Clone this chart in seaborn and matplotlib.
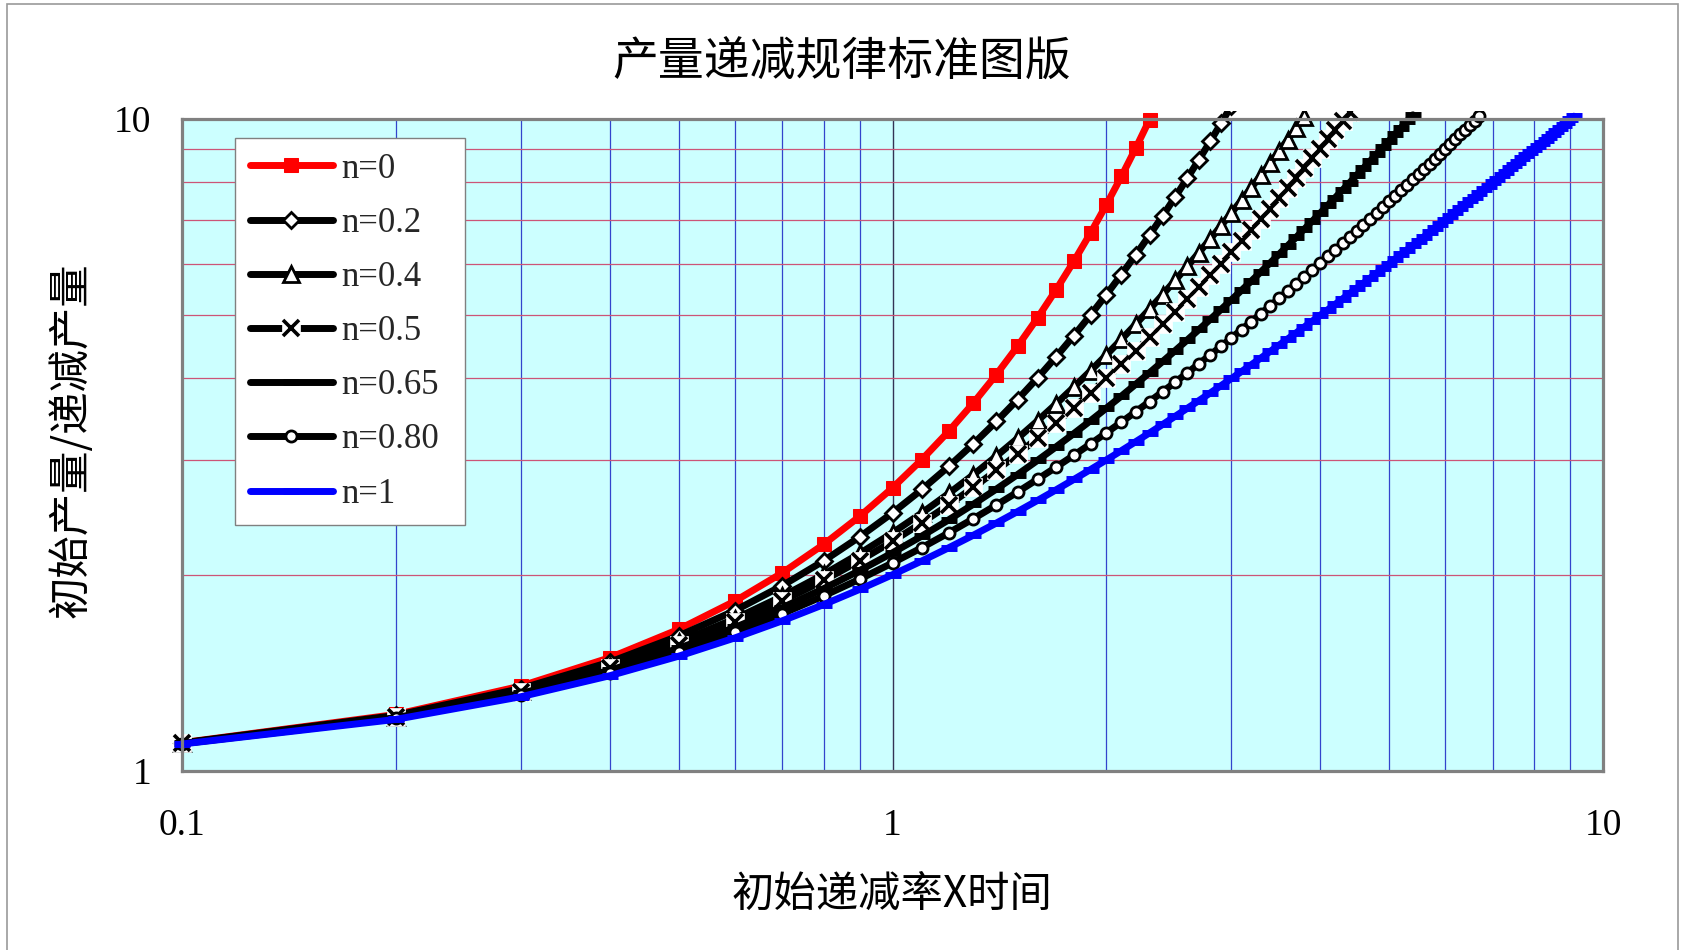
import matplotlib.pyplot as plt
import matplotlib.patches as mpatches
import numpy as np
import seaborn as sns
from matplotlib.ticker import FixedLocator, LogLocator, NullFormatter

sns.set_theme(style='white')
plt.rcParams['font.family'] = ['Noto Sans CJK SC', 'DejaVu Sans']
plt.rcParams['axes.unicode_minus'] = False

# initial decline rate x time (shared grid, step 0.1)
t = [0.1, 0.2, 0.3, 0.4, 0.5, 0.6, 0.7, 0.8, 0.9, 1.0,
     1.1, 1.2, 1.3, 1.4, 1.5, 1.6, 1.7, 1.8, 1.9, 2.0,
     2.1, 2.2, 2.3, 2.4, 2.5, 2.6, 2.7, 2.8, 2.9, 3.0,
     3.1, 3.2, 3.3, 3.4, 3.5, 3.6, 3.7, 3.8, 3.9, 4.0,
     4.1, 4.2, 4.3, 4.4, 4.5, 4.6, 4.7, 4.8, 4.9, 5.0,
     5.1, 5.2, 5.3, 5.4, 5.5, 5.6, 5.7, 5.8, 5.9, 6.0,
     6.1, 6.2, 6.3, 6.4, 6.5, 6.6, 6.7, 6.8, 6.9, 7.0,
     7.1, 7.2, 7.3, 7.4, 7.5, 7.6, 7.7, 7.8, 7.9, 8.0,
     8.1, 8.2, 8.3, 8.4, 8.5, 8.6, 8.7, 8.8, 8.9, 9.0, 9.1]

# Q0/Q for each decline exponent n
q_n0 = [1.105, 1.221, 1.350, 1.492, 1.649, 1.822, 2.014, 2.226, 2.460, 2.718,
        3.004, 3.320, 3.669, 4.055, 4.482, 4.953, 5.474, 6.050, 6.686, 7.389,
        8.166, 9.025, 9.974]
q_n02 = [1.104, 1.217, 1.338, 1.469, 1.611, 1.762, 1.925, 2.100, 2.288, 2.488,
         2.703, 2.932, 3.176, 3.436, 3.713, 4.007, 4.320, 4.653, 5.005, 5.378,
         5.774, 6.192, 6.634, 7.101, 7.594, 8.114, 8.662, 9.239, 9.847, 10.486]
q_n04 = [1.103, 1.212, 1.328, 1.449, 1.577, 1.712, 1.854, 2.002, 2.157, 2.319,
         2.488, 2.665, 2.848, 3.040, 3.238, 3.444, 3.658, 3.880, 4.109, 4.347,
         4.592, 4.846, 5.108, 5.378, 5.657, 5.944, 6.240, 6.544, 6.857, 7.179,
         7.510, 7.849, 8.198, 8.556, 8.923, 9.300, 9.686, 10.081]
q_n05 = [1.103, 1.210, 1.323, 1.440, 1.563, 1.690, 1.823, 1.960, 2.103, 2.250,
         2.403, 2.560, 2.723, 2.890, 3.063, 3.240, 3.423, 3.610, 3.803, 4.000,
         4.203, 4.410, 4.623, 4.840, 5.063, 5.290, 5.523, 5.760, 6.003, 6.250,
         6.503, 6.760, 7.023, 7.290, 7.563, 7.840, 8.123, 8.410, 8.703, 9.000,
         9.303, 9.610, 9.923, 10.240]
q_n065 = [1.102, 1.207, 1.315, 1.427, 1.542, 1.660, 1.781, 1.904, 2.031, 2.161,
          2.293, 2.428, 2.566, 2.706, 2.849, 2.995, 3.143, 3.293, 3.446, 3.602,
          3.759, 3.920, 4.082, 4.247, 4.414, 4.583, 4.755, 4.928, 5.104, 5.282,
          5.462, 5.644, 5.829, 6.015, 6.203, 6.394, 6.586, 6.781, 6.977, 7.175,
          7.376, 7.578, 7.782, 7.988, 8.196, 8.406, 8.617, 8.831, 9.046, 9.263,
          9.482, 9.702, 9.925, 10.149]
q_n08 = [1.101, 1.204, 1.309, 1.415, 1.523, 1.632, 1.743, 1.856, 1.970, 2.085,
         2.201, 2.319, 2.438, 2.558, 2.679, 2.802, 2.925, 3.050, 3.175, 3.302,
         3.429, 3.557, 3.687, 3.817, 3.948, 4.080, 4.213, 4.347, 4.481, 4.617,
         4.753, 4.890, 5.028, 5.166, 5.306, 5.446, 5.586, 5.728, 5.870, 6.013,
         6.156, 6.300, 6.445, 6.591, 6.737, 6.883, 7.031, 7.179, 7.328, 7.477,
         7.627, 7.777, 7.928, 8.080, 8.232, 8.384, 8.538, 8.692, 8.846, 9.001,
         9.156, 9.312, 9.469, 9.626, 9.783, 9.941, 10.100]
q_n1 = [1.1, 1.2, 1.3, 1.4, 1.5, 1.6, 1.7, 1.8, 1.9, 2.0,
        2.1, 2.2, 2.3, 2.4, 2.5, 2.6, 2.7, 2.8, 2.9, 3.0,
        3.1, 3.2, 3.3, 3.4, 3.5, 3.6, 3.7, 3.8, 3.9, 4.0,
        4.1, 4.2, 4.3, 4.4, 4.5, 4.6, 4.7, 4.8, 4.9, 5.0,
        5.1, 5.2, 5.3, 5.4, 5.5, 5.6, 5.7, 5.8, 5.9, 6.0,
        6.1, 6.2, 6.3, 6.4, 6.5, 6.6, 6.7, 6.8, 6.9, 7.0,
        7.1, 7.2, 7.3, 7.4, 7.5, 7.6, 7.7, 7.8, 7.9, 8.0,
        8.1, 8.2, 8.3, 8.4, 8.5, 8.6, 8.7, 8.8, 8.9, 9.0,
        9.1, 9.2, 9.3, 9.4, 9.5, 9.6, 9.7, 9.8, 9.9, 10.0, 10.1]

labels = ['n=0', 'n=0.2', 'n=0.4', 'n=0.5', 'n=0.65', 'n=0.80', 'n=1']

W, H = 1682, 950
fig = plt.figure(figsize=(W / 100, H / 100), dpi=100)
ax = fig.add_axes([182 / W, 1 - 771 / H, 1421 / W, 652 / H])
ax.set_facecolor('#CCFFFF')
ax.set_xscale('log')
ax.set_yscale('log')

# clip a little outside the plot area, like the spreadsheet does
clip = mpatches.Rectangle((-0.01, -0.01), 1.02, 1.022, transform=ax.transAxes)


def draw(y, color='black', **kw):
    sns.lineplot(x=t[:len(y)], y=y, ax=ax, errorbar=None, color=color,
                 lw=5, solid_capstyle='round', **kw)
    line = ax.lines[-1]
    line.set_clip_path(clip)
    return line


h0 = draw(q_n0, color='#FF0000', marker='s', ms=10, mfc='#FF0000', mec='#FF0000')
h02 = draw(q_n02, marker='D', ms=8.5, mfc='white', mec='black', mew=2)
h04 = draw(q_n04, marker='^', ms=11, mfc='white', mec='black', mew=2)
h05a = draw(q_n05, marker='s', ms=13, mfc='white', mec='white', mew=0.5)
h05b = draw(q_n05, marker='x', ms=11, mec='black', mew=2.6, ls='none')
h065 = draw(q_n065, marker='_', ms=11, mec='black', mew=5)
h08 = draw(q_n08, marker='o', ms=8, mfc='white', mec='black', mew=2)
h1 = draw(q_n1, color='#0000FF', marker='_', ms=11, mec='#0000FF', mew=5)

ax.set_xlim(0.1, 10)
ax.set_ylim(1, 10)

# gridlines
ax.xaxis.set_major_locator(FixedLocator([0.1, 1, 10]))
ax.xaxis.set_minor_locator(LogLocator(base=10, subs=np.arange(2, 10)))
ax.yaxis.set_major_locator(FixedLocator([1, 10]))
ax.yaxis.set_minor_locator(LogLocator(base=10, subs=np.arange(2, 10)))
ax.xaxis.set_minor_formatter(NullFormatter())
ax.yaxis.set_minor_formatter(NullFormatter())
ax.set_axisbelow(True)
ax.grid(which='minor', axis='x', color='#3344CC', lw=0.9)
ax.grid(which='major', axis='x', color='#333355', lw=1.0)
ax.grid(which='minor', axis='y', color='#CC5577', lw=0.9)

ax.set_xticks([0.1, 1, 10], labels=['0.1', '1', '10'],
              fontfamily='Liberation Serif', fontsize=27, color='black')
ax.set_yticks([1, 10], labels=['1', '10'],
              fontfamily='Liberation Serif', fontsize=27, color='black')
ax.tick_params(which='both', length=0)
ax.tick_params(axis='x', pad=27)
ax.tick_params(axis='y', pad=22)
ax.set_xlabel('')
ax.set_ylabel('')

for s in ax.spines.values():
    s.set_visible(True)
    s.set_color('#808080')
    s.set_linewidth(2.3)

handles = [h0, h02, h04, (h05a, h05b), h065, h08, h1]
leg = ax.legend(handles, labels, loc='upper left',
                bbox_to_anchor=(53 / 1421, 0, 230 / 1421, 633 / 652),
                mode='expand', borderaxespad=0, frameon=True, fancybox=False,
                framealpha=1, facecolor='white', edgecolor='#808080',
                prop={'family': 'Liberation Serif', 'size': 25},
                handlelength=2.4, handletextpad=0.25, labelspacing=0.61,
                borderpad=0.42, numpoints=1)
leg.get_frame().set_linewidth(1.0)

fig.text(842 / W, 1 - 62 / H, '产量递减规律标准图版', ha='center', va='center',
         fontsize=33, color='black')
fig.text(892 / W, 1 - 895 / H, '初始递减率X时间', ha='center', va='center',
         fontsize=30.5, color='black')
fig.text(72 / W, 1 - 440 / H, '初始产量/递减产量', ha='center', va='center',
         rotation=90, fontsize=30.5, color='black')

# chart area border
fig.patches.append(mpatches.Rectangle((7 / W, -0.02), (1678 - 7) / W, 1 - 4 / H + 0.02,
                                      transform=fig.transFigure, fill=False,
                                      edgecolor='#999999', lw=1.2))

plt.savefig('out.png', dpi=100)
